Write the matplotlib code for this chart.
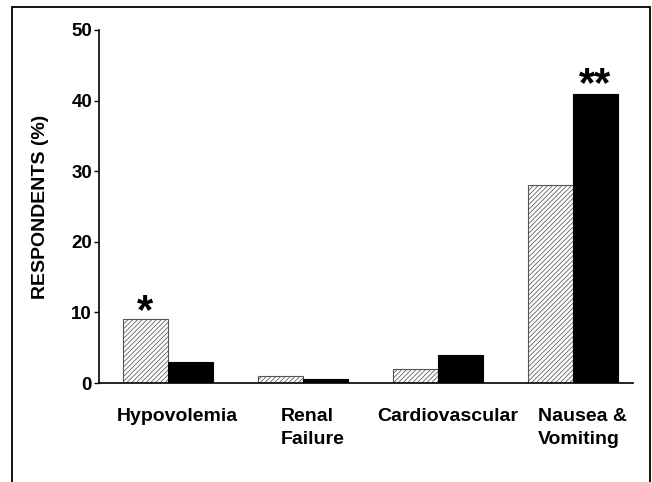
import matplotlib
matplotlib.use("Agg")
import matplotlib.pyplot as plt
import matplotlib.patches as mpatches
import matplotlib.transforms as mtransforms
import numpy as np

plt.rcParams['font.family'] = ['Liberation Sans', 'DejaVu Sans']
plt.rcParams['font.weight'] = 'bold'
plt.rcParams['hatch.linewidth'] = 0.55
plt.rcParams['hatch.color'] = '#444444'

categories = ["Hypovolemia", "Renal\nFailure", "Cardiovascular", "Nausea &\nVomiting"]
series_a = [9, 1, 2, 28]      # hatched bars
series_b = [3, 0.5, 4, 41]    # black bars
marks_a = ["*", "", "", ""]
marks_b = ["", "", "", "**"]
yticks = [0, 10, 20, 30, 40, 50]
ylabel = "RESPONDENTS (%)"

fig = plt.figure(figsize=(6.52, 4.82), dpi=100)
ax = fig.add_axes([99/652, 1-383/482, (633-99)/652, (383-30)/482])

x = np.arange(len(categories))
w = 1/3
ax.bar(x - w/2, series_a, width=w, facecolor='white', edgecolor='#555555',
       linewidth=0.8, hatch='///////')
ax.bar(x + w/2, series_b, width=w, facecolor='black', edgecolor='black', linewidth=0.8)

for xi, v, m in zip(x - w/2, series_a, marks_a):
    if m:
        ax.annotate(m, (xi, v), xytext=(0, -9), textcoords='offset points',
                    ha='center', va='bottom', fontsize=30, fontweight='bold')
for xi, v, m in zip(x + w/2, series_b, marks_b):
    if m:
        ax.annotate(m, (xi, v), xytext=(0, -8), textcoords='offset points',
                    ha='center', va='bottom', fontsize=30, fontweight='bold')

ax.set_xlim(-0.511, 3.444)
ax.set_ylim(0, 50)
ax.set_yticks(yticks)
ax.set_yticklabels([str(t) for t in yticks], fontsize=13.5, fontweight='bold')
ax.tick_params(axis='y', length=3.5, width=1, pad=1.5)
ax.set_xticks([])
for s in ['top', 'right']:
    ax.spines[s].set_visible(False)
ax.spines['left'].set_linewidth(1.2)
ax.spines['bottom'].set_linewidth(1.2)

trans = mtransforms.blended_transform_factory(ax.transData, ax.transAxes)
for xi, lab in zip(x, categories):
    ax.text(xi + 0.07, -25/353, lab, transform=trans, ha='center', va='top',
            multialignment='left', fontsize=14, fontweight='bold', linespacing=1.45)

ax.set_ylabel(ylabel, fontsize=14, fontweight='bold')
ax.yaxis.set_label_coords(-50/534, 0.5)

frame = mpatches.Rectangle((12/652, -0.1), (650-12)/652, 1.1 - 7/482,
                           transform=fig.transFigure, fill=False,
                           edgecolor='black', linewidth=1.3, clip_on=False)
fig.patches.append(frame)

fig.savefig("out.png", dpi=100)
